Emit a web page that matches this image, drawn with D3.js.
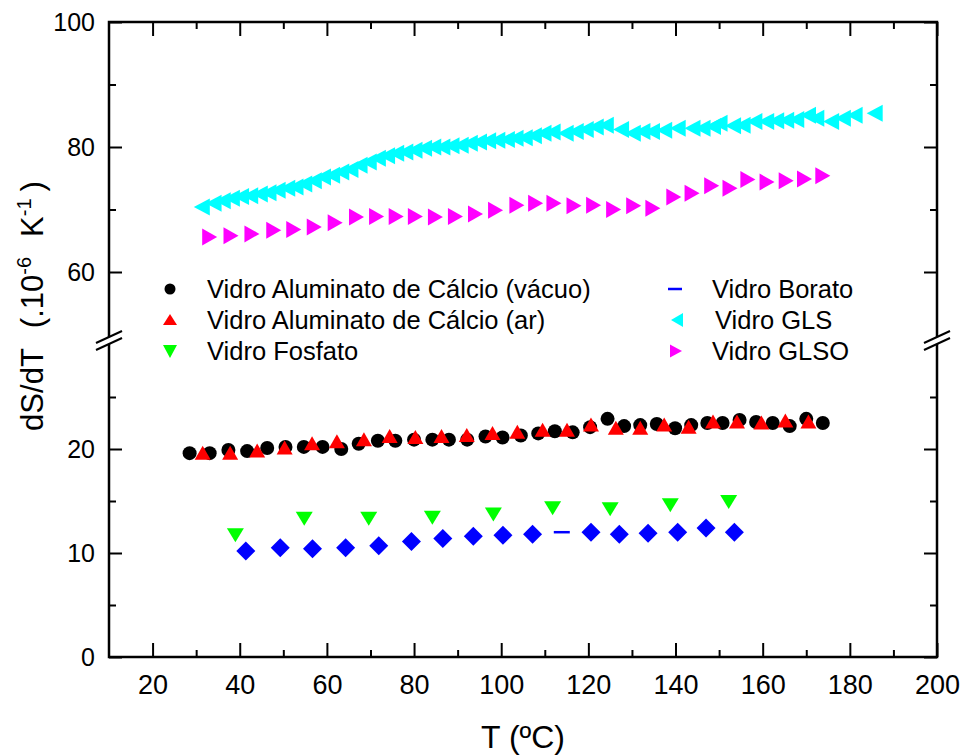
<!DOCTYPE html>
<html>
<head>
<meta charset="utf-8">
<script src="https://cdn.jsdelivr.net/npm/d3@7"></script>
<style>
  body { margin: 0; background: #fff; }
  svg { display: block; font-family: "Liberation Sans", Arial, sans-serif; }
</style>
</head>
<body>
<div id="chart"></div>
<script>
// dimensions of the graph
const width = 962
const height = 755

// --- data ---
// Vidro Aluminato de Cálcio (vácuo)
const vacuoT = [28.5, 33.1, 37.4, 41.7, 46.3, 50.5, 54.7, 59.0, 63.3, 67.3, 71.7, 75.7, 80.0, 84.2, 88.0, 92.2, 96.4, 100.3, 104.5, 108.5, 112.3, 116.4, 120.4, 124.4, 128.2, 131.9, 135.7, 139.9, 143.6, 147.3, 150.8, 154.7, 158.5, 162.3, 166.2, 170.0, 173.8]
const vacuoS = [19.6, 19.6, 19.9, 19.8, 20.1, 20.2, 20.2, 20.2, 20.0, 20.5, 20.8, 20.8, 20.9, 20.9, 20.9, 20.9, 21.2, 21.1, 21.3, 21.5, 21.7, 21.6, 22.1, 22.9, 22.2, 22.3, 22.4, 22.0, 22.3, 22.5, 22.5, 22.8, 22.6, 22.5, 22.2, 22.9, 22.5]

// Vidro Aluminato de Cálcio (ar)
const arT = [31.5, 37.8, 44.0, 50.3, 56.6, 62.3, 68.5, 74.4, 80.3, 86.3, 92.1, 98.0, 103.7, 109.5, 115.1, 120.6, 126.3, 131.9, 137.4, 143.0, 148.6, 154.1, 159.7, 165.2, 170.5]
const arS = [19.6, 19.6, 19.8, 20.1, 20.5, 20.7, 20.9, 21.2, 21.1, 21.2, 21.3, 21.5, 21.6, 21.8, 21.8, 22.3, 22.0, 22.0, 22.3, 22.1, 22.6, 22.6, 22.5, 22.7, 22.6]

// Vidro Fosfato
const fosfatoT = [39.0, 54.8, 69.6, 84.2, 98.2, 111.8, 125.0, 138.8, 152.2]
const fosfatoS = [11.7, 13.3, 13.3, 13.4, 13.7, 14.3, 14.2, 14.6, 14.9]

// Vidro Borato (one point is drawn as a dash, like the legend)
const boratoT = [41.4, 49.3, 56.7, 64.3, 71.9, 79.4, 86.6, 93.6, 100.4, 107.2, 113.9, 120.6, 127.1, 133.7, 140.5, 147.0, 153.5]
const boratoS = [10.2, 10.5, 10.4, 10.5, 10.7, 11.1, 11.4, 11.6, 11.7, 11.8, 12.0, 12.0, 11.8, 11.9, 12.0, 12.4, 12.0]
const boratoDashT = [113.9]

// Vidro GLS
const glsT = [31.3, 34.0, 36.1, 38.2, 40.3, 42.4, 44.6, 46.6, 48.7, 50.9, 52.8, 54.8, 57.0, 59.1, 61.2, 63.3, 65.4, 67.5, 69.6, 71.7, 73.8, 75.9, 78.0, 80.1, 82.3, 84.4, 86.5, 88.6, 90.7, 92.8, 94.9, 97.0, 99.1, 101.3, 103.3, 105.4, 107.5, 109.7, 111.8, 114.8, 117.1, 119.4, 121.7, 124.0, 127.5, 130.2, 132.4, 134.6, 137.4, 140.5, 143.9, 146.2, 148.6, 150.1, 153.2, 155.4, 158.1, 160.8, 163.1, 165.4, 167.7, 170.4, 172.3, 175.7, 178.4, 181.1, 185.7]
const glsS = [70.4, 71.0, 71.4, 71.8, 72.1, 72.2, 72.5, 72.7, 73.1, 73.4, 73.6, 74.1, 74.6, 75.2, 75.5, 76.0, 76.4, 77.1, 77.6, 78.2, 78.6, 79.0, 79.2, 79.5, 79.8, 80.0, 80.0, 80.2, 80.3, 80.6, 80.8, 81.0, 81.1, 81.2, 81.4, 81.5, 81.8, 82.2, 82.4, 82.2, 82.5, 82.8, 83.2, 83.5, 82.8, 82.2, 82.5, 82.5, 82.7, 83.0, 83.0, 83.0, 83.3, 83.8, 83.4, 83.5, 84.1, 84.1, 84.2, 84.3, 84.4, 85.1, 84.6, 84.1, 84.6, 85.1, 85.4]

// Vidro GLSO
const glsoT = [33.1, 38.0, 42.8, 47.8, 52.4, 57.1, 61.9, 66.8, 71.4, 75.9, 80.3, 84.9, 89.5, 94.1, 98.7, 103.6, 107.9, 112.1, 116.7, 121.2, 125.8, 130.4, 134.8, 139.6, 143.8, 148.3, 152.5, 156.6, 161.0, 165.4, 169.6, 173.8]
const glsoS = [65.6, 65.8, 66.1, 66.7, 66.8, 67.2, 67.9, 68.8, 68.9, 68.9, 68.9, 68.8, 68.9, 69.3, 69.9, 70.7, 71.0, 71.0, 70.6, 70.7, 70.0, 70.6, 70.2, 72.0, 72.6, 73.8, 73.4, 74.8, 74.4, 74.6, 74.9, 75.4]

// ticks
const xMajor = [20, 40, 60, 80, 100, 120, 140, 160, 180, 200]
const xMinor = [30, 50, 70, 90, 110, 130, 150, 170, 190]
const yLowMajor = [0, 10, 20]
const yLowMinor = [5, 15, 25]
const yHighMajor = [60, 80, 100]
const yHighMinor = [70, 90]

// legend entries
const legendLeft = ["Vidro Aluminato de Cálcio (vácuo)", "Vidro Aluminato de Cálcio (ar)", "Vidro Fosfato"]
const legendRight = ["Vidro Borato", "Vidro GLS", "Vidro GLSO"]

// plot frame
const plotLeft = 109, plotRight = 937, plotTop = 22, plotBottom = 657
const breakY = 340.5

var svg = d3.select("#chart")
  .append("svg")
  .attr("width", width)
  .attr("height", height)

svg.append("rect").attr("width", width).attr("height", height).attr("fill", "#fff")

// scales: x and a broken y (lower 0-30, upper 50-100)
var x = d3.scaleLinear().domain([10, 200]).range([plotLeft, plotRight])
var yLow = d3.scaleLinear().domain([0, 30]).range([plotBottom, 345])
var yHigh = d3.scaleLinear().domain([50, 100]).range([334.5, plotTop])

function zip(a, b) { return a.map(function(v, i) { return { t: v, s: b[i] } }) }

// marker shapes (relative to the point)
var shapes = {
  circle: "M7,0A7,7 0 1,1 -7,0A7,7 0 1,1 7,0Z",
  up: "M0,-7.5L8,6.5L-8,6.5Z",
  down: "M-8.5,-7L8.5,-7L0,7Z",
  diamond: "M0,-9.5L9.5,0L0,9.5L-9.5,0Z",
  left: "M-8,0L8,-8.5L8,8.5Z",
  right: "M7.5,0L-7.5,-8.5L-7.5,8.5Z"
}

function drawSeries(data, yScale, shape, color) {
  svg.append("g")
    .selectAll("path")
    .data(data)
    .enter().append("path")
      .attr("transform", function(d) { return "translate(" + x(d.t) + "," + yScale(d.s) + ")" })
      .attr("d", shapes[shape])
      .attr("fill", color)
}

// upper series
drawSeries(zip(glsT, glsS), yHigh, "left", "#00ffff")
drawSeries(zip(glsoT, glsoS), yHigh, "right", "#ff00ff")

// lower series
drawSeries(zip(vacuoT, vacuoS), yLow, "circle", "#000")
drawSeries(zip(arT, arS), yLow, "up", "#ff0000")
drawSeries(zip(fosfatoT, fosfatoS), yLow, "down", "#00ff00")

var borato = zip(boratoT, boratoS)
drawSeries(borato.filter(function(d) { return boratoDashT.indexOf(d.t) < 0 }), yLow, "diamond", "#0000ff")
svg.append("g")
  .selectAll("line")
  .data(borato.filter(function(d) { return boratoDashT.indexOf(d.t) >= 0 }))
  .enter().append("line")
    .attr("x1", function(d) { return x(d.t) - 8 })
    .attr("x2", function(d) { return x(d.t) + 8 })
    .attr("y1", function(d) { return yLow(d.s) })
    .attr("y2", function(d) { return yLow(d.s) })
    .attr("stroke", "#0000ff")
    .attr("stroke-width", 2.5)

// axes with inward ticks
function styleAxis(g, fontSize) {
  g.select(".domain").remove()
  g.selectAll(".tick line").attr("stroke", "#000").attr("stroke-width", 2)
  g.selectAll(".tick text").attr("fill", "#000").style("font-size", fontSize + "px")
    .style("font-family", "'Liberation Sans', Arial, sans-serif")
}

// bottom
svg.append("g").attr("transform", "translate(0," + plotBottom + ")")
  .call(d3.axisBottom(x).tickValues(xMajor).tickSize(-14).tickPadding(18))
  .call(styleAxis, 27)
svg.append("g").attr("transform", "translate(0," + plotBottom + ")")
  .call(d3.axisBottom(x).tickValues(xMinor).tickSize(-7).tickFormat(""))
  .call(styleAxis, 27)
// top
svg.append("g").attr("transform", "translate(0," + plotTop + ")")
  .call(d3.axisTop(x).tickValues(xMajor).tickSize(-14).tickFormat(""))
  .call(styleAxis, 27)
svg.append("g").attr("transform", "translate(0," + plotTop + ")")
  .call(d3.axisTop(x).tickValues(xMinor).tickSize(-7).tickFormat(""))
  .call(styleAxis, 27)

// left + right, for both halves of the y axis
;[[yLow, yLowMajor, yLowMinor], [yHigh, yHighMajor, yHighMinor]].forEach(function(p) {
  svg.append("g").attr("transform", "translate(" + plotLeft + ",0)")
    .call(d3.axisLeft(p[0]).tickValues(p[1]).tickSize(-13).tickPadding(14))
    .call(styleAxis, 25)
  svg.append("g").attr("transform", "translate(" + plotLeft + ",0)")
    .call(d3.axisLeft(p[0]).tickValues(p[2]).tickSize(-7).tickFormat(""))
    .call(styleAxis, 25)
  svg.append("g").attr("transform", "translate(" + plotRight + ",0)")
    .call(d3.axisRight(p[0]).tickValues(p[1]).tickSize(-13).tickFormat(""))
    .call(styleAxis, 25)
  svg.append("g").attr("transform", "translate(" + plotRight + ",0)")
    .call(d3.axisRight(p[0]).tickValues(p[2]).tickSize(-7).tickFormat(""))
    .call(styleAxis, 25)
})

// frame
svg.append("rect")
  .attr("x", plotLeft).attr("y", plotTop)
  .attr("width", plotRight - plotLeft).attr("height", plotBottom - plotTop)
  .attr("fill", "none").attr("stroke", "#000").attr("stroke-width", 2.5)

// axis break marks on both sides
;[plotLeft, plotRight].forEach(function(x0) {
  svg.append("path")
    .attr("d", "M" + (x0 - 14) + "," + (breakY + 3) + "L" + (x0 + 14) + "," + (breakY - 10) +
      "L" + (x0 + 14) + "," + (breakY - 3) + "L" + (x0 - 14) + "," + (breakY + 10) + "Z")
    .attr("fill", "#fff")
  ;[0, 7].forEach(function(o) {
    svg.append("line")
      .attr("x1", x0 - 13).attr("y1", breakY + 2.5 + o)
      .attr("x2", x0 + 13).attr("y2", breakY - 9.5 + o)
      .attr("stroke", "#000").attr("stroke-width", 2)
  })
})

// axis titles
svg.append("text")
  .attr("x", (plotLeft + plotRight) / 2)
  .attr("y", 748)
  .attr("text-anchor", "middle")
  .style("font-size", "32px")
  .text("T (ºC)")

var yTitle = svg.append("text")
  .attr("transform", "translate(43,306) rotate(-90)")
  .attr("text-anchor", "middle")
  .style("font-size", "31px")
yTitle.append("tspan").text("dS/dT")
yTitle.append("tspan").attr("dx", 20).text("(.10")
yTitle.append("tspan").attr("dy", -12).style("font-size", "20px").text("-6")
yTitle.append("tspan").attr("dy", 12).attr("dx", 20).text("K")
yTitle.append("tspan").attr("dy", -12).style("font-size", "20px").text("-1")
yTitle.append("tspan").attr("dy", 12).attr("dx", 7).text(")")

// legend
var legendSym = {
  circle: "M5.5,0A5.5,5.5 0 1,1 -5.5,0A5.5,5.5 0 1,1 5.5,0Z",
  up: "M0,-6L7,5L-7,5Z",
  down: "M-7,-6L7,-6L0,7Z",
  left: "M-6,0L6,-7L6,7Z",
  right: "M6,0L-6,-6.5L-6,6.5Z"
}
var rowY = [289, 320, 351]
var leftSyms = [["circle", "#000"], ["up", "#ff0000"], ["down", "#00ff00"]]
legendLeft.forEach(function(name, i) {
  svg.append("path")
    .attr("transform", "translate(170," + rowY[i] + ")")
    .attr("d", legendSym[leftSyms[i][0]]).attr("fill", leftSyms[i][1])
  svg.append("text").attr("x", 207).attr("y", rowY[i] + 9)
    .style("font-size", "25.5px").text(name)
})
svg.append("line")
  .attr("x1", 668).attr("x2", 682).attr("y1", rowY[0]).attr("y2", rowY[0])
  .attr("stroke", "#0000ff").attr("stroke-width", 2.5)
svg.append("path").attr("transform", "translate(677," + rowY[1] + ")")
  .attr("d", legendSym.left).attr("fill", "#00ffff")
svg.append("path").attr("transform", "translate(676," + rowY[2] + ")")
  .attr("d", legendSym.right).attr("fill", "#ff00ff")
var rightX = [712, 715, 712]
legendRight.forEach(function(name, i) {
  svg.append("text").attr("x", rightX[i]).attr("y", rowY[i] + 9)
    .style("font-size", "25.5px").text(name)
})
</script>
</body>
</html>
